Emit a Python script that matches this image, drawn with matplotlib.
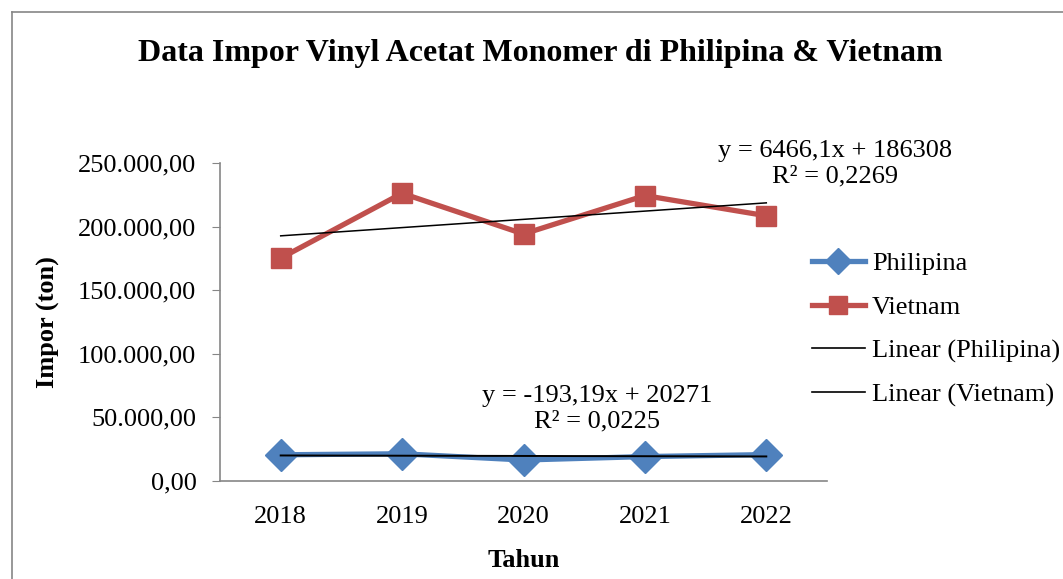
import numpy as np
import matplotlib
matplotlib.use("Agg")
import matplotlib.pyplot as plt
from matplotlib.lines import Line2D

years = ["2018", "2019", "2020", "2021", "2022"]
philipina = [20610, 21400, 16500, 19200, 20745]
vietnam = [175200, 226200, 194200, 224400, 208500]
yticks = [0, 50000, 100000, 150000, 200000, 250000]
ytick_labels = ["0,00", "50.000,00", "100.000,00", "150.000,00", "200.000,00", "250.000,00"]
eq_phil = "y = -193,19x + 20271\nR² = 0,0225"
eq_viet = "y = 6466,1x + 186308\nR² = 0,2269"

plt.rcParams['font.family'] = ['Liberation Serif', 'DejaVu Serif']

W, H = 1063, 579
fig = plt.figure(figsize=(W / 100, H / 100), dpi=100)
ax = fig.add_axes([220 / W, 1 - 481 / H, (827 - 220) / W, (481 - 163) / H])

x = np.arange(1, len(years) + 1)
blue = "#4F81BD"
red = "#C0504D"
grey = "#868686"
fs = 19

ax.plot(x, philipina, color=blue, lw=3.8, marker="D", ms=16, mec=blue, mfc=blue, zorder=3)
ax.plot(x, vietnam, color=red, lw=3.8, marker="s", ms=14, mec=red, mfc=red, zorder=3)

cp = np.polyfit(x, philipina, 1)
cv = np.polyfit(x, vietnam, 1)
ax.plot(x, np.polyval(cp, x), color="black", lw=1.4, zorder=4)
ax.plot(x, np.polyval(cv, x), color="black", lw=1.1, zorder=4)

ax.set_xlim(0.5, len(years) + 0.5)
ax.set_ylim(0, 250000)
ax.set_yticks(yticks)
ax.set_yticklabels(ytick_labels)
ax.set_xticks(x)
ax.set_xticklabels(years)
ax.tick_params(axis="y", direction="out", length=6, color=grey, labelsize=fs, pad=11)
ax.tick_params(axis="x", length=0, labelsize=fs, pad=18)
for s in ["top", "right"]:
    ax.spines[s].set_visible(False)
for s in ["left", "bottom"]:
    ax.spines[s].set_color(grey)
    ax.spines[s].set_linewidth(1.2)

ax.set_ylabel("Impor (ton)", fontsize=fs, fontweight="bold", labelpad=13)
ax.set_xlabel("Tahun", fontsize=fs, fontweight="bold", labelpad=15)

fig.text(540 / W, 1 - 53 / H, "Data Impor Vinyl Acetat Monomer di Philipina & Vietnam",
         ha="center", va="center", fontsize=23, fontweight="bold")

fig.text(835 / W, 1 - 164 / H, eq_viet, ha="center", va="center", fontsize=fs,
         multialignment="center", linespacing=1.2)
fig.text(597 / W, 1 - 409 / H, eq_phil, ha="center", va="center", fontsize=fs,
         multialignment="center", linespacing=1.2)

handles = [
    Line2D([], [], color=blue, lw=3.8, marker="D", ms=13, mec=blue, mfc=blue),
    Line2D([], [], color=red, lw=3.8, marker="s", ms=13, mec=red, mfc=red),
    Line2D([], [], color="black", lw=1.2),
    Line2D([], [], color="black", lw=1.2),
]
labels = ["Philipina", "Vietnam", "Linear (Philipina)", "Linear (Vietnam)"]
fig.legend(handles, labels, loc="upper left", bbox_to_anchor=(812 / W, 1 - 252 / H),
           frameon=False, fontsize=fs, handlelength=2.0, handletextpad=0.27,
           labelspacing=0.76, borderpad=0, borderaxespad=0)

fig.add_artist(Line2D([12 / W, 1.0], [1 - 12 / H, 1 - 12 / H], color=grey, lw=1.2,
                      transform=fig.transFigure))
fig.add_artist(Line2D([12 / W, 12 / W], [0, 1 - 12 / H], color=grey, lw=1.2,
                      transform=fig.transFigure))

fig.savefig("out.png", dpi=100)
